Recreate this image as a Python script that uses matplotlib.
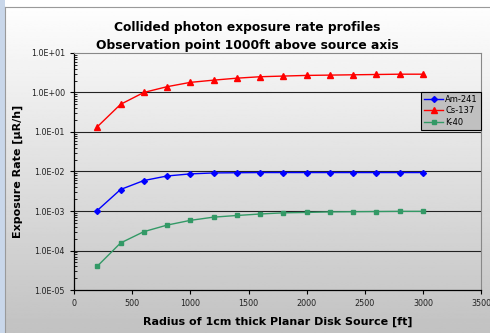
import numpy as np
import matplotlib
matplotlib.use("Agg")
import matplotlib.pyplot as plt
from matplotlib.ticker import FixedLocator, FuncFormatter, LogLocator, NullFormatter
from matplotlib.patches import Rectangle

# data
radius = [200, 400, 600, 800, 1000, 1200, 1400, 1600, 1800, 2000, 2200, 2400, 2600, 2800, 3000]
am241 = [1.03e-3, 3.5e-3, 5.9e-3, 7.7e-3, 8.7e-3, 9.2e-3, 9.3e-3, 9.4e-3, 9.4e-3, 9.4e-3,
         9.4e-3, 9.4e-3, 9.4e-3, 9.4e-3, 9.4e-3]
cs137 = [0.135, 0.5, 1.0, 1.4, 1.8, 2.05, 2.3, 2.5, 2.6, 2.7, 2.75, 2.8, 2.85, 2.9, 2.9]
k40 = [4.0e-5, 1.55e-4, 3.0e-4, 4.4e-4, 5.8e-4, 7.0e-4, 7.7e-4, 8.4e-4, 9.0e-4, 9.2e-4,
       9.5e-4, 9.6e-4, 9.7e-4, 9.8e-4, 9.8e-4]
y_ticks = [1e-5, 1e-4, 1e-3, 1e-2, 1e-1, 1e0, 1e1]
x_ticks = [0, 500, 1000, 1500, 2000, 2500, 3000, 3500]

fig = plt.figure(figsize=(4.9, 3.33), dpi=100)

# gradient background for the chart area
bg = fig.add_axes([0, 0, 1, 1], zorder=-10)
grad = np.linspace(1.0, 0.76, 256).reshape(-1, 1)
bg.imshow(grad, aspect="auto", cmap="gray", vmin=0, vmax=1, extent=[0, 1, 0, 1])
bg.set_xlim(0, 1)
bg.set_ylim(0, 1)
bg.axis("off")
bg.add_patch(Rectangle((0, 0), 0.01, 1, color="#c9d7ea", lw=0))
bg.plot([0.01, 1], [0.979, 0.979], color="#9a9a9a", lw=0.8)
bg.plot([0.01, 0.01], [0, 0.979], color="#9a9a9a", lw=0.8)

ax = fig.add_axes([0.151, 0.129, 0.831, 0.712])
ax.set_facecolor("none")

ax.plot(radius, am241, color="#0000ff", marker="D", markersize=3, lw=1, label="Am-241")
ax.plot(radius, cs137, color="#ff0000", marker="^", markersize=4, lw=1, label="Cs-137")
ax.plot(radius, k40, color="#339966", marker="s", markersize=3, lw=1, label="K-40")

ax.set_yscale("log")
ax.set_ylim(1e-5, 1e1)
ax.set_xlim(0, 3500)
ax.yaxis.set_major_locator(FixedLocator(y_ticks))
ax.yaxis.set_major_formatter(FuncFormatter(lambda v, p: f"{v:.1E}"))
ax.yaxis.set_minor_locator(LogLocator(base=10, subs=np.arange(2, 10)))
ax.yaxis.set_minor_formatter(NullFormatter())
ax.set_xticks(x_ticks)

ax.tick_params(axis="both", which="major", labelsize=5.8, length=3, width=0.8,
               direction="out", colors="black", labelcolor="#222222")
ax.tick_params(axis="y", which="minor", length=2, width=0.6, direction="in")

for v in y_ticks[1:-1]:
    ax.axhline(v, color="#222222", lw=0.8, zorder=0)

for s in ["left", "bottom"]:
    ax.spines[s].set_color("black")
    ax.spines[s].set_linewidth(0.9)
for s in ["top", "right"]:
    ax.spines[s].set_color("#888888")
    ax.spines[s].set_linewidth(0.8)

ax.set_xlabel("Radius of 1cm thick Planar Disk Source [ft]", fontsize=8, fontweight="bold", labelpad=6)
ax.set_ylabel("Exposure Rate [\u00b5R/h]", fontsize=8, fontweight="bold", labelpad=6)

fig.text(0.505, 0.89, "Collided photon exposure rate profiles\nObservation point 1000ft above source axis",
         ha="center", va="center", fontsize=8.8, fontweight="bold", linespacing=1.45)

leg = ax.legend(loc="upper right", bbox_to_anchor=(0.999, 0.836), fontsize=6,
                fancybox=False, framealpha=1, facecolor="#c0c0c0", edgecolor="black",
                handlelength=2.2, handletextpad=0.3, borderpad=0.35, labelspacing=0.3,
                borderaxespad=0)
leg.get_frame().set_linewidth(0.8)

fig.savefig("out.png", dpi=100)
